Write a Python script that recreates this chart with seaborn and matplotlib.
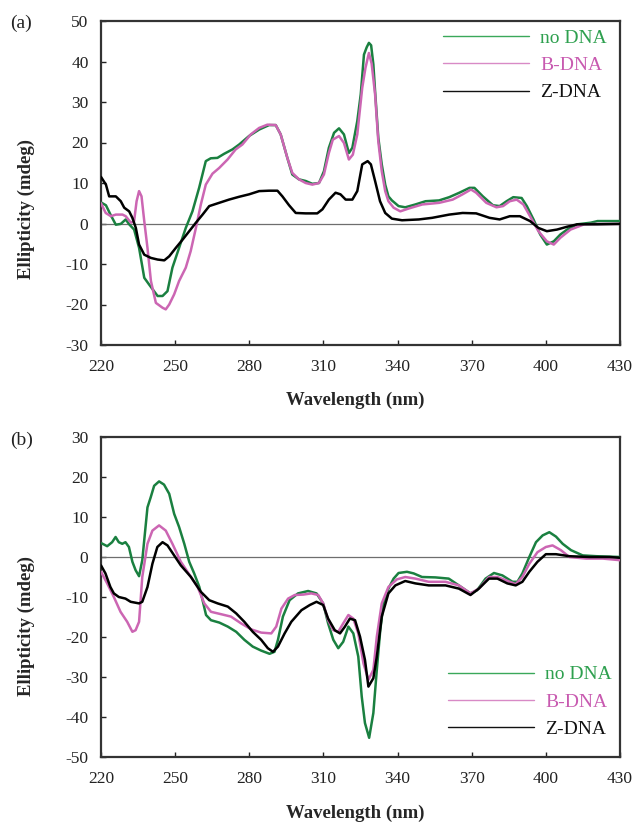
import matplotlib
matplotlib.use("Agg")
import matplotlib.pyplot as plt
import seaborn as sns
import pandas as pd
from matplotlib.lines import Line2D

# ---------------- Panel (a) data ----------------
a_no_wl = [220, 222, 224, 226, 228, 230, 231.4, 233.4, 235.4, 237.5, 239.5, 242.9, 244.9, 246.9, 248.9,
           251.6, 254.3, 257, 259.7, 262.4, 264.4, 267.1, 269.8, 273.2, 275.9, 279.9, 284, 288, 290.7,
           292.7, 295.4, 297.4, 300.1, 302.8, 305.5, 308.2, 310.2, 312.2, 314.3, 316.3, 318.3, 320.3,
           321.7, 323.7, 325.1, 326.4, 327.5, 328.4, 329.3, 330.2, 330.9, 332.2, 333.6, 335, 336.3,
           337.7, 340.4, 343.1, 347.2, 351.3, 356.8, 360.9, 365, 369.1, 371.1, 374.5, 378.6, 381.3,
           384.1, 386.8, 390.2, 392.3, 395, 397.7, 400.4, 403.2, 405.9, 408.6, 412.7, 418.2, 420.9, 430]
a_no_val = [5.2, 4.5, 2.0, -0.3, -0.1, 1.0, -0.2, -1.5, -6.0, -13.4, -15.1, -17.9, -17.9, -16.7, -10.9,
            -6.0, -1.1, 3.0, 8.8, 15.4, 16.1, 16.2, 17.2, 18.3, 19.5, 21.6, 23.2, 24.3, 24.3,
            22.0, 16.2, 12.1, 10.9, 10.5, 9.8, 10.0, 12.9, 18.7, 22.4, 23.5, 22.0, 17.4,
            18.7, 25.3, 31.9, 41.7, 43.5, 44.6, 44.0, 39.3, 32.7, 21.2, 14.6, 9.6, 6.7,
            5.7, 4.3, 4.0, 4.7, 5.5, 5.7, 6.5, 7.6, 8.8, 8.8, 6.7, 4.5, 4.3,
            5.5, 6.5, 6.3, 4.3, 1.0, -2.7, -5.2, -4.4, -2.7, -1.5, -0.2, 0.2, 0.6, 0.6]

a_b_wl = [220, 221.9, 224, 226, 228.7, 230, 232.1, 233.4, 234.4, 235.4, 236.4, 237.5, 238.8, 240.2,
          242.2, 244.9, 246.2, 247.6, 249.6, 251.6, 254.3, 256.3, 258.4, 260.4, 262.4, 265.1, 267.8,
          271.2, 274.5, 277.2, 280.6, 284, 287.3, 290.7, 292.7, 295.4, 297.4, 300.1, 302.8, 305.5,
          308.2, 310.2, 312.2, 313.8, 316.3, 318.3, 320.3, 321.9, 323.7, 325.7, 327, 328.4, 329.5,
          330.9, 332.2, 333.6, 335, 336.3, 338.4, 341.1, 344.5, 350, 356.8, 362.3, 366.3, 369.7,
          371.8, 375.9, 380, 382.7, 385.4, 388.2, 390.9, 393.6, 397, 400.4, 403.2, 405.9, 410,
          415.5, 420.9, 430]
a_b_val = [5.0, 2.6, 1.8, 2.2, 2.2, 1.8, 0.2, 0.6, 5.5, 8.0, 6.7, 0.6, -6.0, -14.2,
           -19.6, -20.8, -21.2, -20.0, -17.5, -14.2, -10.9, -6.8, -1.1, 4.7, 9.6, 12.3, 13.7,
           15.8, 18.3, 19.5, 22.0, 23.6, 24.4, 24.3, 22.0, 16.2, 12.5, 10.9, 10.0, 9.6,
           10.0, 12.1, 17.4, 20.7, 21.6, 19.9, 15.8, 17.0, 22.0, 33.5, 38.4, 42.1, 39.5,
           31.9, 20.3, 12.9, 8.0, 5.5, 3.9, 3.0, 3.7, 4.7, 5.1, 5.9, 7.2, 8.4,
           7.6, 5.1, 4.0, 4.3, 5.5, 5.9, 4.7, 1.8, -1.9, -4.4, -5.2, -3.5, -1.5,
           -0.2, -0.1, -0.1]

a_z_wl = [220, 222, 223.3, 226, 228, 229.4, 231.4, 232.7, 234.1, 235.4, 237.5, 240.2, 242.9, 245.6,
          247.6, 250.3, 253, 255.7, 258.4, 261.1, 263.8, 267.8, 271.8, 275.9, 279.9, 284, 288, 291.4,
          293.4, 296.1, 298.8, 302.8, 307.5, 309.6, 312.2, 314.9, 316.9, 319, 321.7, 323.7, 325.7,
          327.9, 329.2, 330.9, 332.9, 335, 337.7, 341.8, 348.6, 354, 360.9, 366.3, 371.8, 377.2,
          381.3, 385.4, 389.5, 393.6, 397, 400.4, 404.5, 408.6, 412.7, 420.9, 430]
a_z_val = [11.5, 9.6, 6.7, 6.7, 5.5, 3.9, 3.0, 1.4, -1.1, -5.2, -7.7, -8.5, -8.9, -9.1,
           -8.1, -6.0, -4.0, -1.9, 0.2, 2.2, 4.3, 5.1, 5.9, 6.6, 7.2, 8.0, 8.1, 8.1,
           6.7, 4.5, 2.6, 2.5, 2.5, 3.5, 5.9, 7.6, 7.2, 5.9, 5.9, 8.0, 14.6,
           15.4, 14.6, 10.5, 5.5, 2.6, 1.2, 0.8, 1.0, 1.4, 2.2, 2.6, 2.5, 1.4,
           1.0, 1.8, 1.8, 0.6, -1.1, -1.9, -1.5, -0.8, -0.2, -0.2, -0.1]

# ---------------- Panel (b) data ----------------
b_no_wl = [220, 222.5, 224.5, 225.9, 227.2, 228.6, 229.9, 231.3, 232.7, 234, 235.4, 236.7, 238.8,
           240.1, 241.5, 243.5, 245.5, 247.6, 249.6, 251.6, 253.7, 255.7, 257.7, 259.8, 261.1, 262.5,
           264.5, 267.9, 271.3, 274.7, 278, 281.4, 284.8, 288.2, 290.2, 291.6, 293.6, 296.3, 299.7,
           303.8, 307.2, 309.9, 311.9, 314, 316, 318, 320.1, 322.1, 324.1, 325.5, 326.8, 328.5,
           330.2, 331.6, 333, 334.3, 336.3, 338.4, 340.4, 343.8, 346.5, 349.9, 355.3, 360.7, 364.8,
           369.5, 372.2, 375.6, 379, 382.4, 386.5, 388.5, 390.5, 393.3, 396, 398.7, 401.4, 404.1,
           406.8, 410.2, 414.9, 420.4, 430]
b_no_val = [3.5, 2.7, 3.7, 5.0, 3.7, 3.3, 3.7, 2.5, -1.2, -3.3, -4.8, -0.8, 12.4,
            14.9, 17.8, 18.9, 18.1, 15.8, 10.8, 7.5, 3.3, -1.2, -4.1, -7.5, -10.8, -14.5,
            -15.8, -16.4, -17.4, -18.7, -20.7, -22.4, -23.4, -24.2, -23.7, -20.7, -14.9, -10.8, -9.1,
            -8.5, -9.1, -11.6, -16.6, -20.7, -22.8, -21.2, -17.4, -19.1, -24.9, -34.9, -41.5, -45.2,
            -39.0, -28.2, -18.3, -11.6, -7.9, -5.4, -4.0, -3.7, -4.1, -5.0, -5.1, -5.4, -7.1,
            -9.1, -8.3, -5.4, -4.0, -4.6, -6.2, -6.2, -4.1, 0.0, 3.7, 5.4, 6.2, 5.1,
            3.3, 1.7, 0.4, 0.2, 0.0]

b_b_wl = [220, 222.5, 225.2, 227.9, 230.6, 232.7, 234, 235.4, 236.7, 238.8, 240.8, 243.5, 246.2,
          248.9, 252.3, 256.4, 259.1, 261.8, 264.5, 268.6, 272.6, 276.7, 280.8, 284.8, 288.9, 290.9,
          293, 295.7, 298.4, 301.8, 305.1, 307.9, 309.9, 311.9, 314, 316, 318, 320.1, 322.1, 324.1,
          326.2, 328.2, 330.2, 331.6, 333.6, 336.3, 339.7, 343.1, 347.2, 352.6, 359.4, 364.8, 369.5,
          372.9, 377, 380.4, 383.8, 387.8, 390.5, 393.3, 396.6, 400, 402.7, 406.1, 409.5, 416.3,
          423.1, 430]
b_b_val = [-3.7, -6.6, -10.0, -13.7, -16.2, -18.7, -18.3, -16.2, -5.0, 3.3, 6.6, 7.9, 6.6,
           3.3, -1.2, -5.0, -7.5, -11.6, -13.7, -14.3, -14.9, -16.6, -18.1, -18.9, -19.1, -17.4,
           -12.9, -10.4, -9.5, -9.4, -9.1, -9.5, -11.6, -15.8, -18.3, -18.7, -16.6, -14.5, -15.4, -19.1,
           -26.6, -30.7, -28.2, -19.9, -11.6, -7.5, -5.6, -5.0, -5.4, -6.2, -6.2, -7.1, -9.1,
           -7.9, -5.0, -5.0, -5.8, -6.8, -5.0, -1.7, 1.2, 2.5, 2.9, 1.7, 0.0, -0.4,
           -0.4, -0.8]

b_z_wl = [220, 221.8, 223.8, 225.2, 227.2, 229.9, 232, 235.4, 236.7, 238.8, 240.8, 242.8, 244.9,
          246.9, 249.6, 252.3, 256.4, 260.4, 263.8, 267.2, 271.3, 274.7, 278, 281.4, 284.8, 287.5,
          289.6, 291.6, 294.3, 297, 301.1, 304.5, 307.2, 309.9, 311.9, 314.6, 316.7, 318.7, 320.7,
          322.8, 324.8, 326.8, 328.2, 330.2, 331.6, 333.6, 336.3, 339.1, 343.1, 347.2, 352.6, 359.4,
          364.8, 369.5, 372.9, 377, 380.4, 384.4, 387.8, 390.5, 393.3, 396.6, 400, 404.1, 409.5,
          417.6, 425.8, 430]
b_z_val = [-2.1, -4.1, -7.5, -9.1, -10.0, -10.4, -11.2, -11.6, -11.2, -7.5, -1.7, 2.5, 3.7,
           2.9, 0.4, -2.1, -5.0, -8.7, -10.8, -11.6, -12.4, -14.1, -16.2, -18.7, -20.7, -22.8,
           -23.7, -22.4, -19.1, -16.2, -13.3, -12.0, -11.2, -12.0, -15.4, -18.3, -19.1, -17.4, -15.4,
           -15.8, -19.9, -25.7, -32.4, -30.3, -24.9, -14.9, -9.1, -7.1, -6.0, -6.6, -7.1, -7.1,
           -7.9, -9.5, -7.9, -5.4, -5.4, -6.6, -7.1, -6.2, -3.7, -1.2, 0.7, 0.7, 0.2,
           0.0, 0.0, -0.2]

series_labels = ["no DNA", "B-DNA", "Z-DNA"]
x_ticks = [220, 250, 280, 310, 340, 370, 400, 430]
a_yticks = [-30, -20, -10, 0, 10, 20, 30, 40, 50]
b_yticks = [-50, -40, -30, -20, -10, 0, 10, 20, 30]

line_colors = ["#1a8040", "#cc66b3", "#000000"]
legend_line_colors = ["#3aa85a", "#d88ac6", "#111111"]
legend_text_colors = ["#2ea04f", "#c85ab0", "#111111"]

sns.set_style("white")
plt.rcParams["font.family"] = ["Liberation Serif", "DejaVu Serif"]
plt.rcParams["axes.unicode_minus"] = False

fig = plt.figure(figsize=(6.36, 8.23), dpi=100)
W, H = 636.0, 823.0
ax_a = fig.add_axes([101 / W, 1 - 345 / H, 519 / W, 324 / H])
ax_b = fig.add_axes([101 / W, 1 - 757 / H, 519 / W, 320 / H])


def draw_panel(ax, data, yticks, leg_anchor):
    ax.axhline(0, color="#6e6e6e", lw=0.9, zorder=1)
    for (wl, val), col, lab in zip(data, line_colors, series_labels):
        df = pd.DataFrame({"Wavelength": wl, "Ellipticity": val})
        sns.lineplot(data=df, x="Wavelength", y="Ellipticity", ax=ax, color=col,
                     lw=1.8, estimator=None, legend=False, zorder=3)
    ax.set_xlim(220, 430)
    ax.set_ylim(yticks[0], yticks[-1])
    ax.set_xticks(x_ticks)
    ax.set_yticks(yticks)
    ax.tick_params(direction="in", length=3.6, width=1.0, labelsize=12.5,
                   colors="#222222", left=True, bottom=True)
    ax.tick_params(axis="x", pad=10)
    ax.tick_params(axis="y", pad=9)
    for sp in ax.spines.values():
        sp.set_linewidth(1.6)
        sp.set_color("#333333")
    ax.set_xlabel("Wavelength (nm)", fontsize=13.5, fontweight="bold")
    ax.set_ylabel("Ellipticity (mdeg)", fontsize=13.5, fontweight="bold")
    handles = [Line2D([], [], color=c, lw=1.0) for c in legend_line_colors]
    leg = ax.legend(handles, series_labels, loc="upper left", bbox_to_anchor=leg_anchor,
                    frameon=False, fontsize=14, handlelength=4.4, handletextpad=0.6,
                    labelspacing=0.5, borderpad=0, borderaxespad=0,
                    labelcolor=legend_text_colors)
    return leg


draw_panel(ax_a, [(a_no_wl, a_no_val), (a_b_wl, a_b_val), (a_z_wl, a_z_val)],
           a_yticks, (0.659, 0.975))
draw_panel(ax_b, [(b_no_wl, b_no_val), (b_b_wl, b_b_val), (b_z_wl, b_z_val)],
           b_yticks, (0.669, 0.285))

ax_a.xaxis.set_label_coords(0.49, -0.145)
ax_b.xaxis.set_label_coords(0.49, -0.15)
ax_a.yaxis.set_label_coords(-0.128, 0.42)
ax_b.yaxis.set_label_coords(-0.128, 0.41)

fig.text(10 / W, 1 - 23 / H, "(a)", fontsize=14, ha="left", va="center", color="#222222")
fig.text(10 / W, 1 - 440 / H, "(b)", fontsize=14, ha="left", va="center", color="#222222")

fig.savefig("out.png", dpi=100, facecolor="white")
